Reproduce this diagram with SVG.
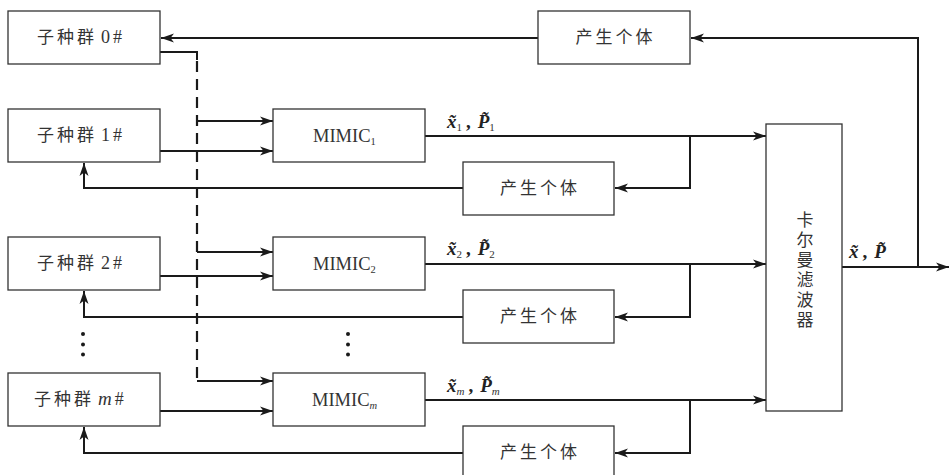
<svg xmlns="http://www.w3.org/2000/svg" width="950" height="475" viewBox="0 0 950 475">
<defs>
<marker id="ah" markerUnits="userSpaceOnUse" markerWidth="14" markerHeight="10" refX="13" refY="5" orient="auto">
<path d="M0,0.5 L13,5 L0,9.5 L3.5,5 z" fill="#1a1a1a"/>
</marker>
<style>
.box{fill:#fff;stroke:#333;stroke-width:1.3}
.cn{font-family:"Noto Sans CJK SC","Noto Sans",sans-serif;font-size:17px;fill:#333}
.sf{font-family:"Liberation Serif","DejaVu Serif",serif;fill:#333}
.ln{fill:none;stroke:#1a1a1a;stroke-width:2}
.ar{fill:none;stroke:#1a1a1a;stroke-width:2;marker-end:url(#ah)}
.dash{fill:none;stroke:#1a1a1a;stroke-width:2.2;stroke-dasharray:11,7}
.lb{font-family:"Liberation Serif","DejaVu Serif",serif;font-weight:bold;font-style:italic;font-size:19px;fill:#222}
.sb{font-weight:normal;font-style:normal;font-size:11px;fill:#333}
.sbi{font-weight:normal;font-style:italic;font-size:11px;fill:#333}
.vt{writing-mode:vertical-rl;text-orientation:upright;letter-spacing:3px}
.dot{fill:#1a1a1a}
</style>
</defs>

<g id="connectors">
<polyline class="ar" points="538,38 161,38"/>
<polyline class="ar" points="918,267 918,38 691,38"/>
<polyline class="ar" points="842,267 949,267"/>
<polyline class="ln" points="160,52 197,52 197,60"/>
<line class="dash" x1="197" y1="61" x2="197" y2="381"/>
<polyline class="ar" points="197,121 273,121"/>
<polyline class="ar" points="197,252 273,252"/>
<polyline class="ar" points="197,381 273,381"/>
<polyline class="ar" points="160,151 273,151"/>
<polyline class="ar" points="160,276 273,276"/>
<polyline class="ar" points="160,411 273,411"/>
<polyline class="ar" points="425,136 766,136"/>
<polyline class="ar" points="425,264 766,264"/>
<polyline class="ar" points="425,400 766,400"/>
<polyline class="ar" points="690,136 690,188 615,188"/>
<polyline class="ar" points="690,264 690,317 615,317"/>
<polyline class="ar" points="690,400 690,453 615,453"/>
<polyline class="ar" points="463,188 84,188 84,163"/>
<polyline class="ar" points="463,317 84,317 84,291"/>
<polyline class="ar" points="463,453 84,453 84,427"/>
</g>

<g id="pop0"><rect class="box" x="8" y="11" width="152" height="53"/>
<text class="cn" x="37" y="43" letter-spacing="3">子种群<tspan class="sf" font-size="18" dx="4">0#</tspan></text></g>
<g id="pop1"><rect class="box" x="8" y="109" width="152" height="53"/>
<text class="cn" x="37" y="141" letter-spacing="3">子种群<tspan class="sf" font-size="18" dx="4">1#</tspan></text></g>
<g id="pop2"><rect class="box" x="8" y="237" width="152" height="53"/>
<text class="cn" x="37" y="269" letter-spacing="3">子种群<tspan class="sf" font-size="18" dx="4">2#</tspan></text></g>
<g id="popm"><rect class="box" x="8" y="373" width="152" height="53"/>
<text class="cn" x="34" y="405" letter-spacing="3">子种群<tspan class="sf" font-size="19" font-style="italic" dx="4">m</tspan><tspan class="sf" font-size="18">#</tspan></text></g>

<g id="gen0"><rect class="box" x="538" y="11" width="152" height="53"/>
<text class="cn" x="615.5" y="43" text-anchor="middle" letter-spacing="3">产生个体</text></g>
<g id="gen1"><rect class="box" x="463" y="162" width="151" height="53"/>
<text class="cn" x="540" y="194" text-anchor="middle" letter-spacing="3">产生个体</text></g>
<g id="gen2"><rect class="box" x="463" y="290" width="151" height="53"/>
<text class="cn" x="540" y="322" text-anchor="middle" letter-spacing="3">产生个体</text></g>
<g id="genm"><rect class="box" x="463" y="426" width="151" height="53"/>
<text class="cn" x="540" y="458" text-anchor="middle" letter-spacing="3">产生个体</text></g>

<g id="mimic1"><rect class="box" x="273" y="109" width="152" height="53"/>
<text class="sf" x="313" y="142" font-size="18.5">MIMIC<tspan font-size="10.5" dy="3">1</tspan></text></g>
<g id="mimic2"><rect class="box" x="273" y="237" width="152" height="53"/>
<text class="sf" x="313" y="270" font-size="18.5">MIMIC<tspan font-size="10.5" dy="3">2</tspan></text></g>
<g id="mimicm"><rect class="box" x="273" y="373" width="152" height="53"/>
<text class="sf" x="312" y="406" font-size="18.5">MIMIC<tspan font-size="10.5" font-style="italic" dy="3">m</tspan></text></g>

<g id="kalman"><rect class="box" x="766" y="124" width="76" height="287"/>
<text class="cn vt" x="805" y="211">卡尔曼滤波器</text></g>

<g id="labels">
<text class="lb" x="447" y="128">x̃<tspan class="sb" dy="3">1</tspan><tspan dy="-3" dx="4" font-style="normal">,</tspan><tspan dx="7">P̃</tspan><tspan class="sb" dy="3">1</tspan></text>
<text class="lb" x="447" y="255">x̃<tspan class="sb" dy="3">2</tspan><tspan dy="-3" dx="4" font-style="normal">,</tspan><tspan dx="7">P̃</tspan><tspan class="sb" dy="3">2</tspan></text>
<text class="lb" x="447" y="392">x̃<tspan class="sbi" dy="3">m</tspan><tspan dy="-3" dx="4" font-style="normal">,</tspan><tspan dx="7">P̃</tspan><tspan class="sbi" dy="3">m</tspan></text>
<text class="lb" x="849" y="258">x̃<tspan dx="4" font-style="normal">,</tspan><tspan dx="7">P̃</tspan></text>
</g>

<g id="dots">
<circle class="dot" cx="83" cy="334" r="2"/><circle class="dot" cx="83" cy="344.5" r="2"/><circle class="dot" cx="83" cy="354.5" r="2"/>
<circle class="dot" cx="348" cy="334" r="2"/><circle class="dot" cx="348" cy="344.5" r="2"/><circle class="dot" cx="348" cy="354.5" r="2"/>
</g>
</svg>
